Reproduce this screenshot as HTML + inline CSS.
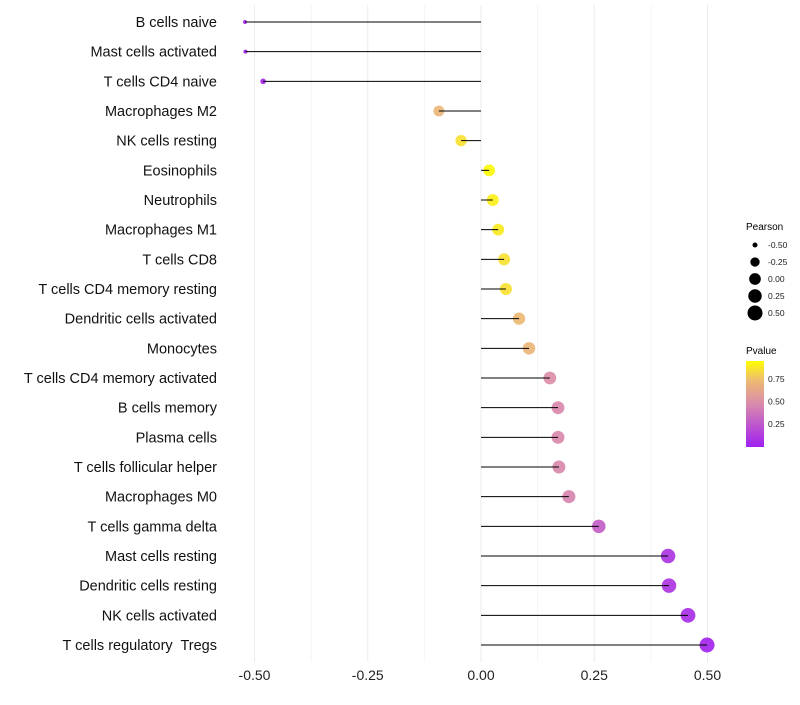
<!DOCTYPE html>
<html><head><meta charset="utf-8"><style>
body{margin:0;background:#fff;font-family:"Liberation Sans",sans-serif}
svg text{font-family:"Liberation Sans",sans-serif;white-space:pre}
</style></head><body>
<svg id="chart" width="800" height="700" xmlns="http://www.w3.org/2000/svg">
<defs><linearGradient id="pgrad" x1="0" y1="1" x2="0" y2="0">
<stop offset="0" stop-color="#A020F0"/><stop offset="0.5" stop-color="#D98AAC"/><stop offset="0.78" stop-color="#EEBC70"/><stop offset="1" stop-color="#FFFF00"/></linearGradient></defs>
<g id="grid"></g>
<g id="marks"></g>
<g id="labels"></g>
<g id="xticks"></g>
<g id="legend">
<text x="746" y="230" font-size="10" fill="#000">Pearson</text>
<g id="sizeLegend"></g>
<text x="746" y="354" font-size="10" fill="#000">Pvalue</text>
<rect x="746" y="361" width="18" height="86" fill="url(#pgrad)"/>
<g id="colorTicks"></g>
</g>
</svg>
<script>
const categories=["B cells naive","Mast cells activated","T cells CD4 naive","Macrophages M2","NK cells resting","Eosinophils","Neutrophils","Macrophages M1","T cells CD8","T cells CD4 memory resting","Dendritic cells activated","Monocytes","T cells CD4 memory activated","B cells memory","Plasma cells","T cells follicular helper","Macrophages M0","T cells gamma delta","Mast cells resting","Dendritic cells resting","NK cells activated","T cells regulatory  Tregs"];
const pearson=[-0.521,-0.52,-0.481,-0.093,-0.044,0.018,0.026,0.038,0.051,0.055,0.084,0.106,0.152,0.170,0.170,0.172,0.194,0.26,0.413,0.415,0.457,0.499];
const pvalue=[0.02,0.02,0.03,0.74,0.9,0.98,0.95,0.93,0.9,0.9,0.76,0.74,0.52,0.5,0.5,0.5,0.47,0.3,0.1,0.1,0.07,0.03];
const xTicks=[-0.5,-0.25,0,0.25,0.5];
const xTickLabels=["-0.50","-0.25","0.00","0.25","0.50"];
const sizeLegendVals=[-0.5,-0.25,0,0.25,0.5];
const colorTickVals=[0.25,0.5,0.75];
const NS="http://www.w3.org/2000/svg";
const xS=v=>481+v*453;
const yS=i=>22+i*(623/21);
const rS=v=>1.6+5.9*Math.sqrt(Math.max(0,(v+0.525)/1.025));
const pY=p=>446.5-p*90;
const stops=[[0,[160,32,240]],[0.5,[217,138,172]],[0.78,[238,188,112]],[1,[255,255,0]]];
function col(p){for(let i=1;i<stops.length;i++){if(p<=stops[i][0]){const a=stops[i-1],b=stops[i];const t=(p-a[0])/(b[0]-a[0]);const c=a[1].map((v,k)=>Math.round(v+(b[1][k]-v)*t));return `rgb(${c})`;}}return "rgb(255,255,0)";}
function mk(tag,attrs,parent){const e=document.createElementNS(NS,tag);for(const k in attrs)e.setAttribute(k,attrs[k]);parent.appendChild(e);return e;}
const grid=document.getElementById('grid');
[-0.5,-0.375,-0.25,-0.125,0,0.125,0.25,0.375,0.5].forEach(v=>{
 const l=mk('line',{x1:xS(v),x2:xS(v),y1:5,y2:662,stroke:Number.isInteger(v*4)?'#ebebeb':'#f4f4f4','stroke-width':1},grid);
 
 
});
const marks=document.getElementById('marks'),labels=document.getElementById('labels');
categories.forEach((c,i)=>{
 const y=yS(i);
 const pt=mk('circle',{cx:xS(pearson[i]),cy:y,r:rS(pearson[i]),fill:col(pvalue[i]),'fill-opacity':0.92},marks);
 
 
 const s=mk('line',{x1:xS(0),x2:xS(pearson[i]),y1:y,y2:y,stroke:'#000','stroke-width':1},marks);
 
 
 const t=mk('text',{x:217,y:y+5,'text-anchor':'end','font-size':14.5,fill:'#111'},labels);
 t.textContent=c;
 
 
});
const xt=document.getElementById('xticks');
xTicks.forEach((v,i)=>{
 const t=mk('text',{x:xS(v),y:680,'text-anchor':'middle','font-size':14,fill:'#222'},xt);
 t.textContent=xTickLabels[i];
 
 
});
const sl=document.getElementById('sizeLegend');
sizeLegendVals.forEach((v,i)=>{
 const y=245+i*17;
 const c=mk('circle',{cx:755,cy:y,r:rS(v),fill:'#000'},sl);
 
 
 const t=mk('text',{x:768,y:y+3,'font-size':8.5,fill:'#222'},sl);
 t.textContent=v.toFixed(2);
 
 
});
const ct=document.getElementById('colorTicks');
colorTickVals.forEach(v=>{
 const y=pY(v);
 const t=mk('text',{x:768,y:y+3,'font-size':8.5,fill:'#222'},ct);
 t.textContent=v.toFixed(2);
 
 
});
</script>
</body></html>
